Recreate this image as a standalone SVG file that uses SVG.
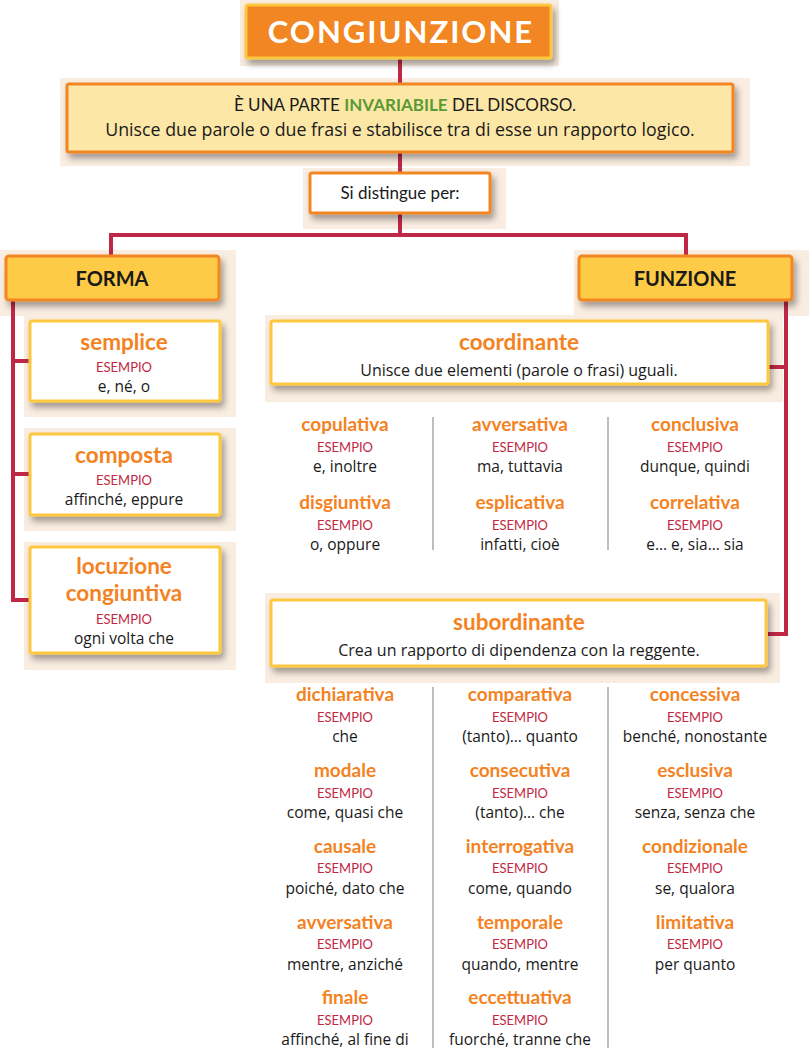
<svg xmlns="http://www.w3.org/2000/svg" width="809" height="1048" viewBox="0 0 809 1048">
<defs>
<filter id="sh" x="-10%" y="-20%" width="125%" height="150%">
<feDropShadow dx="3" dy="5" stdDeviation="3" flood-color="#000" flood-opacity="0.35"/>
</filter>
<style>
.bg{fill:#f9ece0}
.conn{fill:none;stroke:#be2846;stroke-width:4}
.sep{stroke:#a8a8a8;stroke-width:1.5}
text{font-family:Lato,"Noto Sans",sans-serif;text-anchor:middle}
.ttl{fill:#f4821f;font-weight:bold;font-size:19px}
.bt{font-size:22.5px}
.es{fill:#c1273f;font-size:13px}
.ex{fill:#1a1a1a;font-size:15.5px;font-family:"Open Sans",Lato,sans-serif}
.white{fill:#fff;stroke:#fdc83e;stroke-width:3}
.or{fill:#fde7a6;stroke:#f28622;stroke-width:3}
.yl{fill:#fecb47;stroke:#f28622;stroke-width:3}
.hd{fill:#1a1a1a;font-weight:bold;font-size:20px}
.sub{fill:#1a1a1a;font-size:16px;font-family:"Open Sans",Lato,sans-serif}
.body{fill:#1a1a1a;font-size:17px}
</style>
</defs>
<rect width="809" height="1048" fill="#fff"/>
<g id="backgrounds">
<rect class="bg" x="240" y="0" width="319" height="66"/>
<rect class="bg" x="60" y="78" width="690" height="88"/>
<rect class="bg" x="303" y="168" width="203" height="61"/>
<rect class="bg" x="0" y="250" width="236" height="66"/>
<rect class="bg" x="574" y="250" width="235" height="66"/>
<rect class="bg" x="24" y="316" width="212" height="101"/>
<rect class="bg" x="24" y="428" width="212" height="103"/>
<rect class="bg" x="24" y="542" width="212" height="128"/>
<rect class="bg" x="265" y="315" width="518" height="87"/>
<rect class="bg" x="265" y="593" width="515" height="90"/>
</g>
<g id="connectors">
<line class="conn" x1="400" y1="58" x2="400" y2="84"/>
<line class="conn" x1="400" y1="152" x2="400" y2="173"/>
<polyline class="conn" points="400,213 400,235"/>
<polyline class="conn" points="111,256 111,235 686,235 686,256"/>
<polyline class="conn" points="13,300 13,600 29,600"/>
<line class="conn" x1="13" y1="361" x2="29" y2="361"/>
<line class="conn" x1="13" y1="474" x2="29" y2="474"/>
<polyline class="conn" points="786,300 786,634 768,634"/>
<line class="conn" x1="768" y1="367" x2="786" y2="367"/>
</g>
<g id="separators">
<line class="sep" x1="433" y1="417" x2="433" y2="550"/>
<line class="sep" x1="608" y1="417" x2="608" y2="550"/>
<line class="sep" x1="433" y1="687" x2="433" y2="1048"/>
<line class="sep" x1="608" y1="687" x2="608" y2="1048"/>
</g>
<g id="title">
<rect x="246" y="5" width="305" height="53" rx="2" fill="#f28622" stroke="#fdc83e" stroke-width="3" filter="url(#sh)"/>
<text x="401" y="43" fill="#fff" font-weight="bold" font-size="31" style="letter-spacing:2px">CONGIUNZIONE</text>
</g>
<g id="definizione">
<rect class="or" x="67" y="84" width="666" height="68" rx="2" filter="url(#sh)"/>
<text class="body" x="405" y="111">È UNA PARTE <tspan fill="#5a9a35" font-weight="bold">INVARIABILE</tspan> DEL DISCORSO.</text>
<text class="body" x="400" y="136" style="font-family:'Open Sans',Lato,sans-serif;font-size:17.8px">Unisce due parole o due frasi e stabilisce tra di esse un rapporto logico.</text>
</g>
<g id="distingue">
<rect x="310" y="173" width="180" height="40" rx="2" fill="#fff" stroke="#f28622" stroke-width="3" filter="url(#sh)"/>
<text class="body" x="400" y="199">Si distingue per:</text>
</g>
<g id="forma">
<rect class="yl" x="6" y="256" width="213" height="44" rx="3" filter="url(#sh)"/>
<text class="hd" x="112" y="286">FORMA</text>
</g>
<g id="funzione">
<rect class="yl" x="579" y="256" width="213" height="44" rx="3" filter="url(#sh)"/>
<text class="hd" x="685" y="286">FUNZIONE</text>
</g>
<g id="semplice">
<rect class="white" x="30" y="321" width="190" height="80" rx="2" filter="url(#sh)"/>
<text class="ttl bt" x="124" y="350">semplice</text>
<text class="es" x="124" y="372">ESEMPIO</text>
<text class="ex" x="124" y="392">e, né, o</text>
</g>
<g id="composta">
<rect class="white" x="30" y="434" width="190" height="81" rx="2" filter="url(#sh)"/>
<text class="ttl bt" x="124" y="463">composta</text>
<text class="es" x="124" y="485">ESEMPIO</text>
<text class="ex" x="124" y="505">affinché, eppure</text>
</g>
<g id="locuzione">
<rect class="white" x="30" y="547" width="190" height="106" rx="2" filter="url(#sh)"/>
<text class="ttl bt" x="124" y="574">locuzione</text>
<text class="ttl bt" x="124" y="601">congiuntiva</text>
<text class="es" x="124" y="624">ESEMPIO</text>
<text class="ex" x="124" y="644">ogni volta che</text>
</g>
<g id="coordinante">
<rect class="white" x="271" y="321" width="497" height="63" rx="2" filter="url(#sh)"/>
<text class="ttl bt" x="519" y="350">coordinante</text>
<text class="sub" x="519" y="376">Unisce due elementi (parole o frasi) uguali.</text>
</g>
<g id="coord-items">
<text class="ttl" x="345" y="431">copulativa</text><text class="es" x="345" y="452">ESEMPIO</text><text class="ex" x="345" y="472">e, inoltre</text>
<text class="ttl" x="345" y="509">disgiuntiva</text><text class="es" x="345" y="530">ESEMPIO</text><text class="ex" x="345" y="550">o, oppure</text>
<text class="ttl" x="520" y="431">avversativa</text><text class="es" x="520" y="452">ESEMPIO</text><text class="ex" x="520" y="472">ma, tuttavia</text>
<text class="ttl" x="520" y="509">esplicativa</text><text class="es" x="520" y="530">ESEMPIO</text><text class="ex" x="520" y="550">infatti, cioè</text>
<text class="ttl" x="695" y="431">conclusiva</text><text class="es" x="695" y="452">ESEMPIO</text><text class="ex" x="695" y="472">dunque, quindi</text>
<text class="ttl" x="695" y="509">correlativa</text><text class="es" x="695" y="530">ESEMPIO</text><text class="ex" x="695" y="550">e… e, sia… sia</text>
</g>
<g id="subordinante">
<rect class="white" x="271" y="600" width="495" height="66" rx="2" filter="url(#sh)"/>
<text class="ttl bt" x="519" y="630">subordinante</text>
<text class="sub" x="519" y="656">Crea un rapporto di dipendenza con la reggente.</text>
</g>
<g id="sub-items">
<text class="ttl" x="345" y="701">dichiarativa</text><text class="es" x="345" y="722">ESEMPIO</text><text class="ex" x="345" y="742">che</text>
<text class="ttl" x="345" y="777">modale</text><text class="es" x="345" y="798">ESEMPIO</text><text class="ex" x="345" y="818">come, quasi che</text>
<text class="ttl" x="345" y="853">causale</text><text class="es" x="345" y="873">ESEMPIO</text><text class="ex" x="345" y="894">poiché, dato che</text>
<text class="ttl" x="345" y="929">avversativa</text><text class="es" x="345" y="949">ESEMPIO</text><text class="ex" x="345" y="970">mentre, anziché</text>
<text class="ttl" x="345" y="1004">finale</text><text class="es" x="345" y="1025">ESEMPIO</text><text class="ex" x="345" y="1045">affinché, al fine di</text>
<text class="ttl" x="520" y="701">comparativa</text><text class="es" x="520" y="722">ESEMPIO</text><text class="ex" x="520" y="742">(tanto)… quanto</text>
<text class="ttl" x="520" y="777">consecutiva</text><text class="es" x="520" y="798">ESEMPIO</text><text class="ex" x="520" y="818">(tanto)… che</text>
<text class="ttl" x="520" y="853">interrogativa</text><text class="es" x="520" y="873">ESEMPIO</text><text class="ex" x="520" y="894">come, quando</text>
<text class="ttl" x="520" y="929">temporale</text><text class="es" x="520" y="949">ESEMPIO</text><text class="ex" x="520" y="970">quando, mentre</text>
<text class="ttl" x="520" y="1004">eccettuativa</text><text class="es" x="520" y="1025">ESEMPIO</text><text class="ex" x="520" y="1045">fuorché, tranne che</text>
<text class="ttl" x="695" y="701">concessiva</text><text class="es" x="695" y="722">ESEMPIO</text><text class="ex" x="695" y="742">benché, nonostante</text>
<text class="ttl" x="695" y="777">esclusiva</text><text class="es" x="695" y="798">ESEMPIO</text><text class="ex" x="695" y="818">senza, senza che</text>
<text class="ttl" x="695" y="853">condizionale</text><text class="es" x="695" y="873">ESEMPIO</text><text class="ex" x="695" y="894">se, qualora</text>
<text class="ttl" x="695" y="929">limitativa</text><text class="es" x="695" y="949">ESEMPIO</text><text class="ex" x="695" y="970">per quanto</text>
</g>
</svg>
